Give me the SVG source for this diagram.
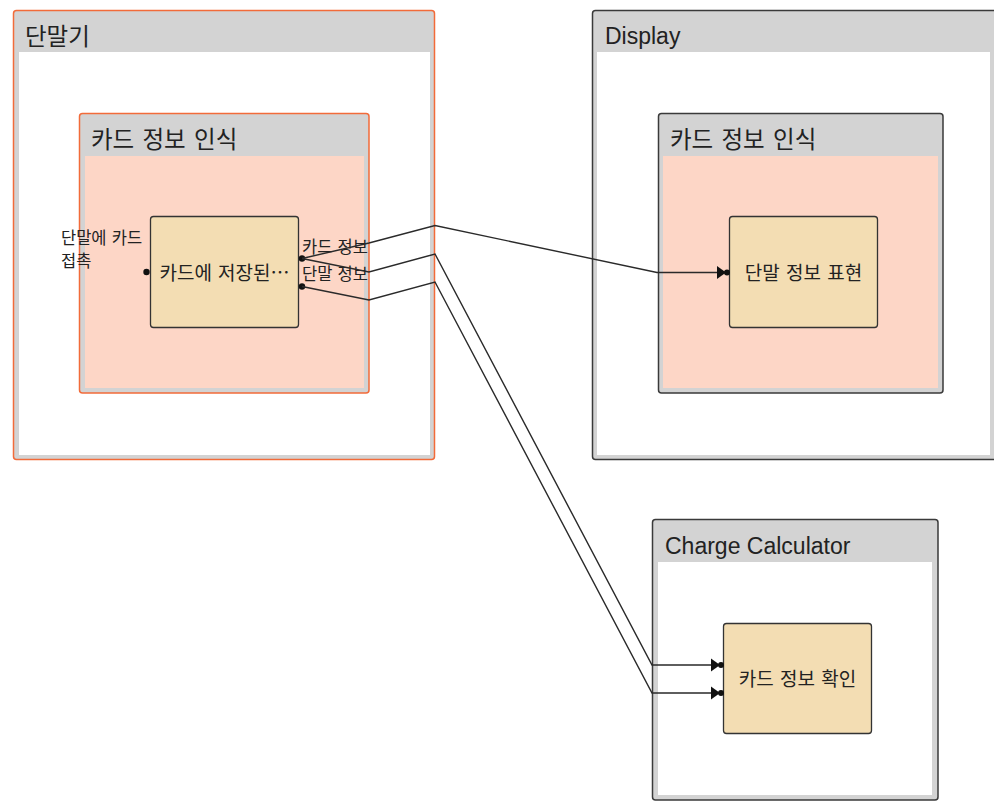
<svg xmlns="http://www.w3.org/2000/svg" width="994" height="802" viewBox="0 0 994 802">
  <style>
    .frame { fill: #d3d3d3; stroke-width: 1.5; }
    .orange { stroke: #f26b3a; }
    .dark { stroke: #3a3a3a; }
    .white { fill: #ffffff; }
    .pink { fill: #fdd6c6; }
    .fn { fill: #f3ddb3; stroke: #333333; stroke-width: 1.3; }
    .title { font-family: "Noto Sans CJK KR", "Liberation Sans", sans-serif; font-size: 23.5px; fill: #222222; word-spacing: 3px; }
    .ltitle { font-family: "Liberation Sans", "Noto Sans CJK KR", sans-serif; font-size: 23px; fill: #222222; }
    .label { font-family: "Noto Sans CJK KR", sans-serif; font-size: 19px; fill: #222222; text-anchor: middle; word-spacing: 2px; }
    .port { font-family: "Noto Sans CJK KR", sans-serif; font-size: 16.5px; fill: #222222; word-spacing: 1.5px; }
    .wire { fill: none; stroke: #2a2a2a; stroke-width: 1.4; }
    .dot { fill: #111111; }
  </style>
  <defs>
    <marker id="inArrow" markerUnits="userSpaceOnUse" markerWidth="16" markerHeight="16" refX="14" refY="8" orient="auto">
      <path d="M2,1.5 L11,8 L2,14.5 Z" fill="#111111"/>
      <circle cx="12" cy="8" r="3" fill="#111111"/>
    </marker>
  </defs>

  <rect width="994" height="802" fill="#ffffff"/>

  <!-- 단말기 -->
  <g id="terminal">
    <rect class="frame orange" x="13.5" y="10.5" width="421" height="449" rx="3"/>
    <rect class="white" x="19" y="52" width="411" height="403"/>
    <text class="title" x="25" y="45">단말기</text>
  </g>
  <g id="terminal-recognize">
    <rect class="frame orange" x="79.5" y="113.5" width="289.5" height="279.5" rx="3"/>
    <rect class="pink" x="85" y="156" width="279" height="232"/>
    <text class="title" x="91" y="148">카드 정보 인식</text>
  </g>
  <g id="card-stored">
    <rect class="fn" x="150.5" y="216.5" width="148" height="111" rx="3"/>
    <text class="label" x="224.5" y="280">카드에 저장된…</text>
    <circle class="dot" cx="146.5" cy="272" r="3.2"/>
    <circle class="dot" cx="302" cy="258.5" r="3.2"/>
    <circle class="dot" cx="302" cy="286.5" r="3.2"/>
    <text class="port" x="61" y="243.5">단말에 카드</text>
    <text class="port" x="61" y="267">접촉</text>
    <text class="port" x="302" y="253">카드 정보</text>
    <text class="port" x="302" y="280">단말 정보</text>
  </g>

  <!-- Display -->
  <g id="display">
    <rect class="frame dark" x="592.5" y="10.5" width="404" height="449" rx="3"/>
    <rect class="white" x="597" y="52" width="393" height="403"/>
    <text class="ltitle" x="605" y="44">Display</text>
  </g>
  <g id="display-recognize">
    <rect class="frame dark" x="658.5" y="113.5" width="284.5" height="279.5" rx="3"/>
    <rect class="pink" x="663" y="156" width="275" height="232"/>
    <text class="title" x="670" y="148">카드 정보 인식</text>
  </g>
  <g id="show-terminal">
    <rect class="fn" x="729.5" y="216.5" width="148" height="111" rx="3"/>
    <text class="label" x="803.5" y="280">단말 정보 표현</text>
  </g>

  <!-- Charge Calculator -->
  <g id="charge-calculator">
    <rect class="frame dark" x="652.5" y="519.5" width="285.5" height="280.5" rx="3"/>
    <rect class="white" x="658" y="562" width="274" height="233"/>
    <text class="ltitle" x="665" y="554">Charge Calculator</text>
  </g>
  <g id="check-card">
    <rect class="fn" x="723.5" y="623.5" width="148" height="110" rx="3"/>
    <text class="label" x="797.5" y="686">카드 정보 확인</text>
  </g>

  <!-- connectors -->
  <g id="connectors">
    <polyline class="wire" points="302,258.5 369,243 435,225.5 657,272.5 729,272.5" marker-end="url(#inArrow)"/>
    <polyline class="wire" points="302,258.5 369,272 435,254 652,665 723,665" marker-end="url(#inArrow)"/>
    <polyline class="wire" points="302,286.5 369,300 435,282 652,693 723,693" marker-end="url(#inArrow)"/>
  </g>
</svg>
